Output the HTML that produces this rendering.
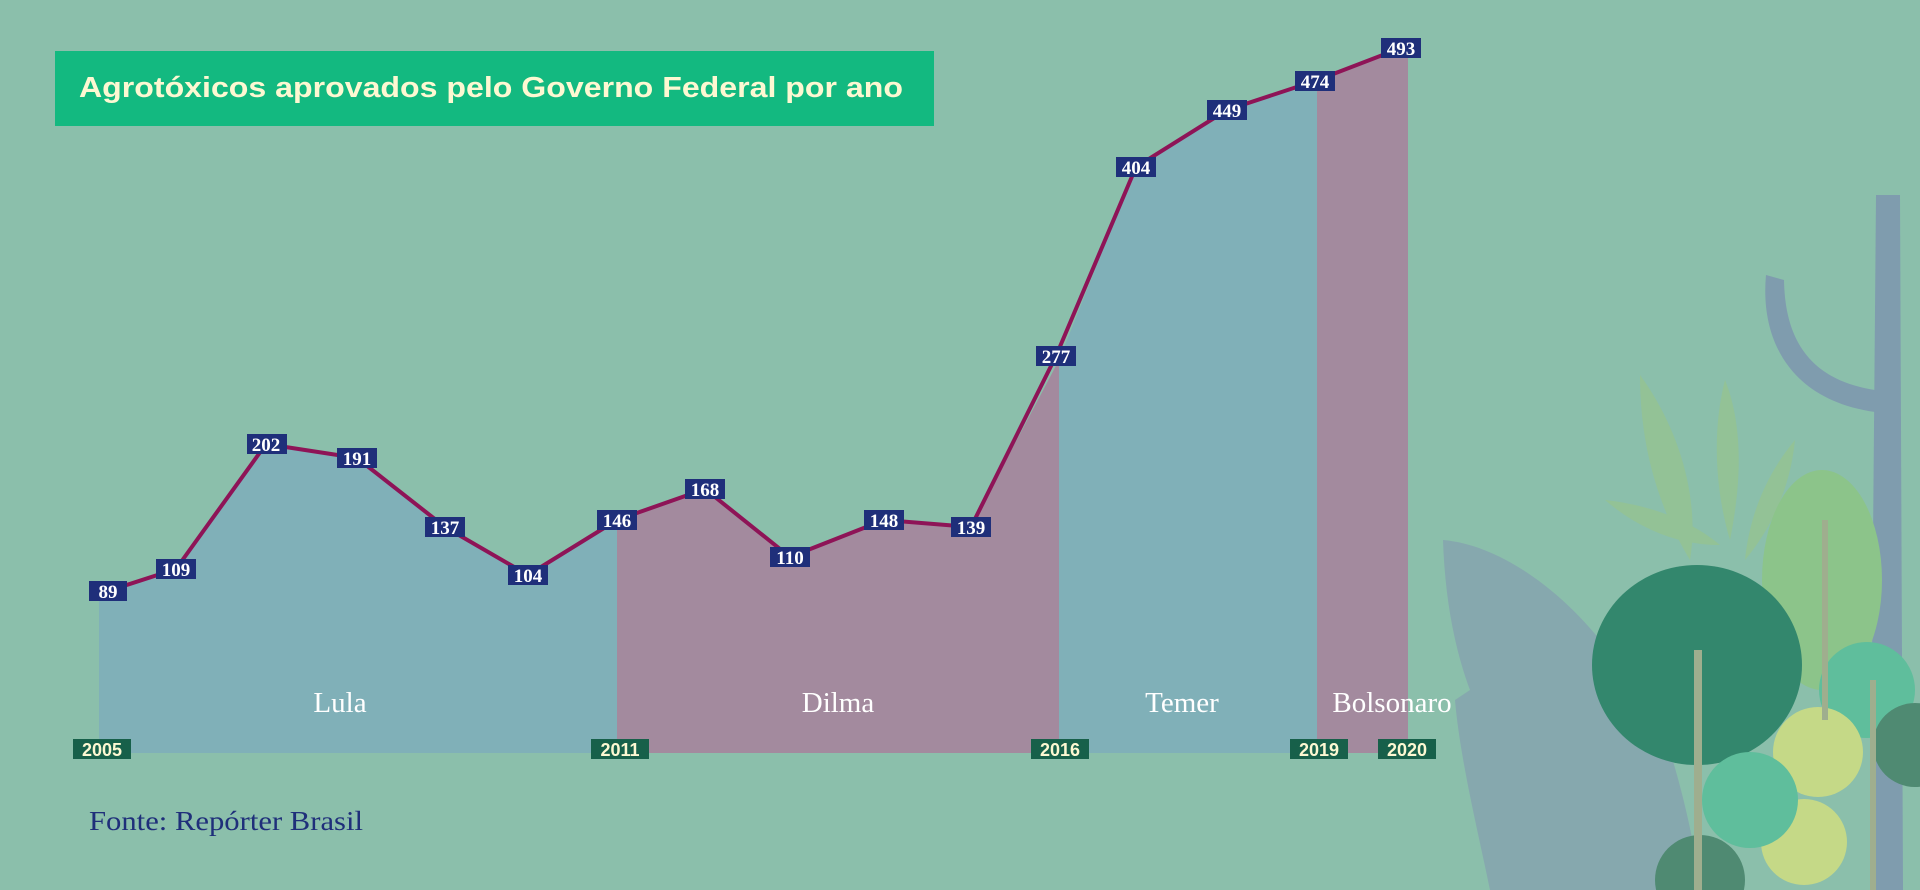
<!DOCTYPE html>
<html><head><meta charset="utf-8"><style>
html,body{margin:0;padding:0;background:#8bbfab;}
svg{display:block}
.lb{font-family:"Liberation Serif",serif;font-weight:bold;font-size:19px;fill:#fff;text-anchor:middle}
.yr{font-family:"Liberation Sans",sans-serif;font-weight:bold;font-size:18px;fill:#fdf8d2;text-anchor:middle}
.nm{font-family:"Liberation Serif",serif;font-size:29px;fill:#fff;text-anchor:middle}
</style></head><body>
<svg width="1920" height="890" viewBox="0 0 1920 890" xmlns="http://www.w3.org/2000/svg">
<rect width="1920" height="890" fill="#8bbfab"/>
<!-- plants -->
<g>
<path d="M1443,540 C1500,545 1560,590 1600,640 L1640,660 C1660,720 1690,800 1700,890 L1490,890 C1480,840 1460,760 1455,700 L1470,690 C1455,650 1445,600 1443,540Z" fill="#86a8ae"/>
<path d="M1640,375 C1680,430 1700,500 1690,560 C1660,510 1640,450 1640,375Z M1725,380 C1745,430 1740,490 1730,540 C1715,490 1712,430 1725,380Z M1795,440 C1790,490 1770,530 1745,560 C1750,510 1770,470 1795,440Z M1605,500 C1650,505 1690,520 1720,545 C1680,545 1640,530 1605,500Z" fill="#93c296"/>
<path d="M1876,195 L1900,195 L1903,890 L1870,890 Z" fill="#7f9cae"/>
<path d="M1766,275 C1760,340 1790,400 1875,412 L1875,390 C1810,380 1785,340 1784,280 Z" fill="#7f9cae"/>
<ellipse cx="1822" cy="580" rx="60" ry="110" fill="#8cc48a"/>
<ellipse cx="1697" cy="665" rx="105" ry="100" fill="#33876d"/>
<circle cx="1867" cy="690" r="48" fill="#5fbe9c"/>
<circle cx="1818" cy="752" r="45" fill="#c5d987"/>
<circle cx="1804" cy="842" r="43" fill="#c5d987"/>
<circle cx="1750" cy="800" r="48" fill="#5fbe9c"/>
<circle cx="1700" cy="880" r="45" fill="#4f8a72"/>
<circle cx="1915" cy="745" r="42" fill="#4f8a72"/>
<path d="M1694,650 L1702,650 L1702,890 L1694,890Z M1870,680 L1876,680 L1876,890 L1870,890Z M1822,520 L1828,520 L1828,720 L1822,720Z" fill="#9fae8e"/>
</g>
<!-- title -->
<rect x="55" y="51" width="879" height="75" fill="#13b980"/>
<text x="79" y="97" font-family="'Liberation Sans',sans-serif" font-weight="bold" font-size="29" fill="#fdf8d2" textLength="824" lengthAdjust="spacingAndGlyphs">Agrotóxicos aprovados pelo Governo Federal por ano</text>
<!-- areas -->
<polygon points="99,753 99,591 176,569 266,444 357,458 445,527 528,575 617,520 617,753" fill="#80b0b8"/>
<polygon points="617,753 617,520 705,489 790,557 884,520 971,527 1059,360 1059,753" fill="#a38a9e"/>
<polygon points="1059,753 1059,360 1136,167 1227,110 1317,79 1317,753" fill="#80b0b8"/>
<polygon points="1317,753 1317,79 1401,48 1408,48 1408,753" fill="#a38a9e"/>
<polyline points="108,591 176,569 266,444 357,458 445,527 528,575 617,520 705,489 790,557 884,520 971,527 1056,356 1136,167 1227,110 1315,81 1401,48" fill="none" stroke="#8e1457" stroke-width="4" stroke-linejoin="round"/>
<g>
<rect x="89" y="581" width="38" height="20" fill="#1f2f7a"/><text class="lb" x="108" y="598">89</text>
<rect x="156" y="559" width="40" height="20" fill="#1f2f7a"/><text class="lb" x="176" y="576">109</text>
<rect x="247" y="434" width="40" height="20" fill="#1f2f7a"/><text class="lb" x="266" y="451">202</text>
<rect x="337" y="448" width="40" height="20" fill="#1f2f7a"/><text class="lb" x="357" y="465">191</text>
<rect x="425" y="517" width="40" height="20" fill="#1f2f7a"/><text class="lb" x="445" y="534">137</text>
<rect x="508" y="565" width="40" height="20" fill="#1f2f7a"/><text class="lb" x="528" y="582">104</text>
<rect x="597" y="510" width="40" height="20" fill="#1f2f7a"/><text class="lb" x="617" y="527">146</text>
<rect x="685" y="479" width="40" height="20" fill="#1f2f7a"/><text class="lb" x="705" y="496">168</text>
<rect x="770" y="547" width="40" height="20" fill="#1f2f7a"/><text class="lb" x="790" y="564">110</text>
<rect x="864" y="510" width="40" height="20" fill="#1f2f7a"/><text class="lb" x="884" y="527">148</text>
<rect x="951" y="517" width="40" height="20" fill="#1f2f7a"/><text class="lb" x="971" y="534">139</text>
<rect x="1036" y="346" width="40" height="20" fill="#1f2f7a"/><text class="lb" x="1056" y="363">277</text>
<rect x="1116" y="157" width="40" height="20" fill="#1f2f7a"/><text class="lb" x="1136" y="174">404</text>
<rect x="1207" y="100" width="40" height="20" fill="#1f2f7a"/><text class="lb" x="1227" y="117">449</text>
<rect x="1295" y="71" width="40" height="20" fill="#1f2f7a"/><text class="lb" x="1315" y="88">474</text>
<rect x="1381" y="38" width="40" height="20" fill="#1f2f7a"/><text class="lb" x="1401" y="55">493</text>
</g>
<g>
<rect x="73" y="739" width="58" height="20" fill="#17604a"/><text class="yr" x="102" y="756">2005</text>
<rect x="591" y="739" width="58" height="20" fill="#17604a"/><text class="yr" x="620" y="756">2011</text>
<rect x="1031" y="739" width="58" height="20" fill="#17604a"/><text class="yr" x="1060" y="756">2016</text>
<rect x="1290" y="739" width="58" height="20" fill="#17604a"/><text class="yr" x="1319" y="756">2019</text>
<rect x="1378" y="739" width="58" height="20" fill="#17604a"/><text class="yr" x="1407" y="756">2020</text>
</g>
<text class="nm" x="340" y="712">Lula</text>
<text class="nm" x="838" y="712">Dilma</text>
<text class="nm" x="1182" y="712">Temer</text>
<text class="nm" x="1392" y="712">Bolsonaro</text>
<text x="89" y="830" font-family="'Liberation Serif',serif" font-size="27" fill="#1f2f7a" textLength="274" lengthAdjust="spacingAndGlyphs">Fonte: Repórter Brasil</text>
</svg>
</body></html>
